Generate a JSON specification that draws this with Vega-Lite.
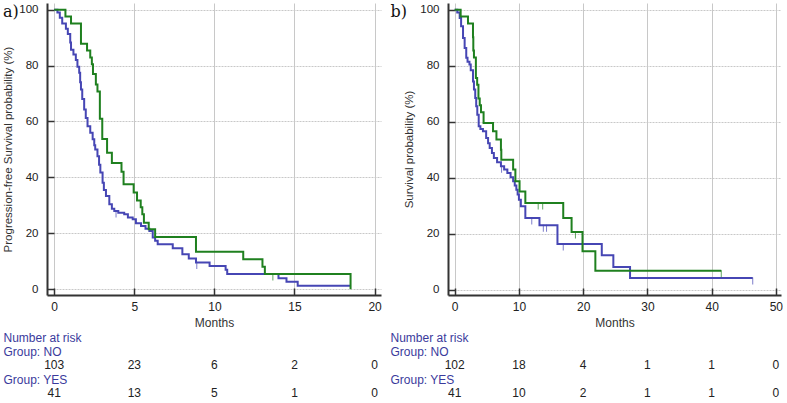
{
  "$schema": "https://vega.github.io/schema/vega-lite/v6.json",
  "padding": {"left": 2, "top": 3, "right": 0, "bottom": 0},
  "background": "white",
  "config": {
    "font": "Liberation Sans",
    "view": {"stroke": null},
    "axis": {"labelFont": "Liberation Sans", "titleFont": "Liberation Sans", "labelColor": "#222", "titleColor": "#333", "titleFontWeight": "normal", "grid": true, "gridOpacity": 1, "gridWidth": 1}
  },
  "datasets": {
    "kmA": [
      {"group": "NO", "t": 0, "s": 100}, {"group": "NO", "t": 0.2, "s": 99.0}, {"group": "NO", "t": 0.35, "s": 97.1}, {"group": "NO", "t": 0.5, "s": 95.1}, {"group": "NO", "t": 0.73, "s": 93.2}, {"group": "NO", "t": 0.85, "s": 91.3}, {"group": "NO", "t": 1.0, "s": 88.3}, {"group": "NO", "t": 1.05, "s": 85.7}, {"group": "NO", "t": 1.2, "s": 84.0}, {"group": "NO", "t": 1.35, "s": 82.0}, {"group": "NO", "t": 1.45, "s": 79.6}, {"group": "NO", "t": 1.56, "s": 77.4}, {"group": "NO", "t": 1.62, "s": 74.0}, {"group": "NO", "t": 1.67, "s": 71.4}, {"group": "NO", "t": 1.75, "s": 68.0}, {"group": "NO", "t": 1.87, "s": 64.3}, {"group": "NO", "t": 1.97, "s": 61.2}, {"group": "NO", "t": 2.08, "s": 58.3}, {"group": "NO", "t": 2.25, "s": 56.0}, {"group": "NO", "t": 2.4, "s": 53.6}, {"group": "NO", "t": 2.5, "s": 51.5}, {"group": "NO", "t": 2.56, "s": 50.0}, {"group": "NO", "t": 2.7, "s": 47.6}, {"group": "NO", "t": 2.8, "s": 44.5}, {"group": "NO", "t": 2.88, "s": 41.7}, {"group": "NO", "t": 3.02, "s": 38.1}, {"group": "NO", "t": 3.1, "s": 35.5}, {"group": "NO", "t": 3.23, "s": 33.3}, {"group": "NO", "t": 3.44, "s": 30.4}, {"group": "NO", "t": 3.6, "s": 28.8}, {"group": "NO", "t": 3.75, "s": 28.0}, {"group": "NO", "t": 4.0, "s": 27.3}, {"group": "NO", "t": 4.37, "s": 26.8}, {"group": "NO", "t": 4.6, "s": 25.6}, {"group": "NO", "t": 4.9, "s": 25.0}, {"group": "NO", "t": 5.1, "s": 23.6}, {"group": "NO", "t": 5.42, "s": 22.6}, {"group": "NO", "t": 5.7, "s": 21.6}, {"group": "NO", "t": 5.94, "s": 20.8}, {"group": "NO", "t": 6.15, "s": 18.5}, {"group": "NO", "t": 6.3, "s": 17.3}, {"group": "NO", "t": 6.46, "s": 16.1}, {"group": "NO", "t": 7.4, "s": 14.6}, {"group": "NO", "t": 8.0, "s": 12.5}, {"group": "NO", "t": 8.4, "s": 11.0}, {"group": "NO", "t": 8.85, "s": 9.5}, {"group": "NO", "t": 9.7, "s": 8.3}, {"group": "NO", "t": 10.7, "s": 6.9}, {"group": "NO", "t": 10.8, "s": 5.4}, {"group": "NO", "t": 14.0, "s": 3.9}, {"group": "NO", "t": 14.5, "s": 2.6}, {"group": "NO", "t": 15.2, "s": 1.2}, {"group": "NO", "t": 18.5, "s": 1.2},
      {"group": "YES", "t": 0, "s": 100}, {"group": "YES", "t": 0.7, "s": 97.6}, {"group": "YES", "t": 1.05, "s": 95.1}, {"group": "YES", "t": 1.67, "s": 87.8}, {"group": "YES", "t": 2.05, "s": 85.4}, {"group": "YES", "t": 2.25, "s": 82.9}, {"group": "YES", "t": 2.35, "s": 80.5}, {"group": "YES", "t": 2.42, "s": 77.0}, {"group": "YES", "t": 2.6, "s": 73.2}, {"group": "YES", "t": 2.7, "s": 70.7}, {"group": "YES", "t": 2.85, "s": 61.0}, {"group": "YES", "t": 3.0, "s": 53.7}, {"group": "YES", "t": 3.3, "s": 48.8}, {"group": "YES", "t": 3.6, "s": 45.1}, {"group": "YES", "t": 4.2, "s": 42.0}, {"group": "YES", "t": 4.33, "s": 37.5}, {"group": "YES", "t": 4.96, "s": 34.6}, {"group": "YES", "t": 5.17, "s": 31.7}, {"group": "YES", "t": 5.4, "s": 29.3}, {"group": "YES", "t": 5.5, "s": 26.8}, {"group": "YES", "t": 5.6, "s": 23.8}, {"group": "YES", "t": 5.9, "s": 21.4}, {"group": "YES", "t": 6.3, "s": 18.7}, {"group": "YES", "t": 8.85, "s": 13.4}, {"group": "YES", "t": 11.8, "s": 10.7}, {"group": "YES", "t": 13.0, "s": 8.0}, {"group": "YES", "t": 13.15, "s": 5.4}, {"group": "YES", "t": 18.5, "s": 0}
    ],
    "censA": [
      {"group": "NO", "t": 3.86, "s": 28.0}, {"group": "NO", "t": 8.9, "s": 9.5}, {"group": "YES", "t": 13.65, "s": 5.4}
    ],
    "kmB": [
      {"group": "NO", "t": 0, "s": 100}, {"group": "NO", "t": 0.4, "s": 99.0}, {"group": "NO", "t": 0.78, "s": 97.0}, {"group": "NO", "t": 1.0, "s": 94.1}, {"group": "NO", "t": 1.3, "s": 89.9}, {"group": "NO", "t": 1.55, "s": 86.3}, {"group": "NO", "t": 1.8, "s": 82.8}, {"group": "NO", "t": 2.0, "s": 81.4}, {"group": "NO", "t": 2.3, "s": 80.4}, {"group": "NO", "t": 2.5, "s": 78.4}, {"group": "NO", "t": 2.85, "s": 74.4}, {"group": "NO", "t": 3.0, "s": 71.5}, {"group": "NO", "t": 3.2, "s": 68.5}, {"group": "NO", "t": 3.35, "s": 65.5}, {"group": "NO", "t": 3.52, "s": 62.5}, {"group": "NO", "t": 3.74, "s": 58.4}, {"group": "NO", "t": 4.0, "s": 57.4}, {"group": "NO", "t": 4.4, "s": 56.6}, {"group": "NO", "t": 4.9, "s": 54.2}, {"group": "NO", "t": 5.2, "s": 52.3}, {"group": "NO", "t": 5.45, "s": 50.6}, {"group": "NO", "t": 5.8, "s": 48.8}, {"group": "NO", "t": 6.1, "s": 47.0}, {"group": "NO", "t": 6.6, "s": 45.5}, {"group": "NO", "t": 7.2, "s": 44.1}, {"group": "NO", "t": 7.7, "s": 42.9}, {"group": "NO", "t": 8.2, "s": 41.7}, {"group": "NO", "t": 8.7, "s": 40.2}, {"group": "NO", "t": 9.1, "s": 38.7}, {"group": "NO", "t": 9.35, "s": 37.2}, {"group": "NO", "t": 9.6, "s": 35.7}, {"group": "NO", "t": 9.8, "s": 34.0}, {"group": "NO", "t": 10.0, "s": 32.1}, {"group": "NO", "t": 10.3, "s": 29.8}, {"group": "NO", "t": 11.0, "s": 25.6}, {"group": "NO", "t": 13.2, "s": 23.0}, {"group": "NO", "t": 16.0, "s": 16.3}, {"group": "NO", "t": 22.9, "s": 12.3}, {"group": "NO", "t": 24.7, "s": 8.1}, {"group": "NO", "t": 27.3, "s": 4.2}, {"group": "NO", "t": 46.4, "s": 4.2},
      {"group": "YES", "t": 0, "s": 100}, {"group": "YES", "t": 0.93, "s": 97.6}, {"group": "YES", "t": 2.07, "s": 95.1}, {"group": "YES", "t": 2.85, "s": 90.2}, {"group": "YES", "t": 2.9, "s": 85.4}, {"group": "YES", "t": 3.0, "s": 82.9}, {"group": "YES", "t": 3.3, "s": 75.6}, {"group": "YES", "t": 3.5, "s": 73.2}, {"group": "YES", "t": 3.7, "s": 68.3}, {"group": "YES", "t": 3.9, "s": 65.9}, {"group": "YES", "t": 4.1, "s": 63.4}, {"group": "YES", "t": 4.5, "s": 59.5}, {"group": "YES", "t": 5.97, "s": 56.6}, {"group": "YES", "t": 6.5, "s": 53.6}, {"group": "YES", "t": 7.2, "s": 50.0}, {"group": "YES", "t": 7.26, "s": 46.4}, {"group": "YES", "t": 9.1, "s": 42.9}, {"group": "YES", "t": 9.45, "s": 38.7}, {"group": "YES", "t": 10.1, "s": 35.1}, {"group": "YES", "t": 11.0, "s": 31.0}, {"group": "YES", "t": 16.9, "s": 25.6}, {"group": "YES", "t": 18.2, "s": 20.6}, {"group": "YES", "t": 19.9, "s": 13.7}, {"group": "YES", "t": 21.9, "s": 6.8}, {"group": "YES", "t": 41.5, "s": 6.8}
    ],
    "censB": [
      {"group": "NO", "t": 7.3, "s": 44.1}, {"group": "NO", "t": 12.0, "s": 25.6}, {"group": "NO", "t": 13.8, "s": 23.0}, {"group": "NO", "t": 14.3, "s": 23.0}, {"group": "NO", "t": 16.9, "s": 16.3}, {"group": "NO", "t": 46.4, "s": 4.2},
      {"group": "YES", "t": 13.0, "s": 31.0}, {"group": "YES", "t": 13.7, "s": 31.0}, {"group": "YES", "t": 18.8, "s": 20.6}, {"group": "YES", "t": 41.5, "s": 6.8}
    ],
    "riskA": [
      {"group": "NO", "t": 0, "n": 103}, {"group": "NO", "t": 5, "n": 23}, {"group": "NO", "t": 10, "n": 6}, {"group": "NO", "t": 15, "n": 2}, {"group": "NO", "t": 20, "n": 0},
      {"group": "YES", "t": 0, "n": 41}, {"group": "YES", "t": 5, "n": 13}, {"group": "YES", "t": 10, "n": 5}, {"group": "YES", "t": 15, "n": 1}, {"group": "YES", "t": 20, "n": 0}
    ],
    "riskB": [
      {"group": "NO", "t": 0, "n": 102}, {"group": "NO", "t": 10, "n": 18}, {"group": "NO", "t": 20, "n": 4}, {"group": "NO", "t": 30, "n": 1}, {"group": "NO", "t": 40, "n": 1}, {"group": "NO", "t": 50, "n": 0},
      {"group": "YES", "t": 0, "n": 41}, {"group": "YES", "t": 10, "n": 10}, {"group": "YES", "t": 20, "n": 2}, {"group": "YES", "t": 30, "n": 1}, {"group": "YES", "t": 40, "n": 1}, {"group": "YES", "t": 50, "n": 0}
    ]
  },
  "resolve": {"scale": {"x": "independent", "y": "independent", "color": "independent"}},
  "spacing": 8,
  "hconcat": [
    {
      "spacing": 2,
      "resolve": {"scale": {"x": "independent", "y": "independent", "color": "independent"}},
      "vconcat": [
        {
          "width": 334, "height": 292,
          "layer": [
            {
              "data": {"name": "kmA"},
              "mark": {"type": "line", "interpolate": "step-after", "strokeWidth": 2},
              "encoding": {
                "x": {"field": "t", "type": "quantitative", "scale": {"domain": [-0.45, 20.4], "nice": false, "zero": false},
                  "axis": {"values": [0, 5, 10, 15, 20], "title": "Months", "grid": true, "tickSize": -7, "tickWidth": 1.5, "tickColor": "#333", "domainColor": "#333", "domainWidth": 2, "gridColor": "#c8c8c8", "labelFontSize": 12, "labelPadding": 13, "titleFontSize": 12, "titlePadding": 5}},
                "y": {"field": "s", "type": "quantitative", "scale": {"domain": [-2.1, 102.4], "nice": false, "zero": false},
                  "axis": {"values": [0, 20, 40, 60, 80, 100], "title": "Progression-free Survival probability (%)", "grid": true, "tickSize": -7, "tickWidth": 1.5, "tickColor": "#333", "domainColor": "#333", "domainWidth": 2, "gridColor": "#c8c8c8", "gridDash": [2, 1], "labelFontSize": 11.5, "labelPadding": 16, "titleFontSize": 11.5, "titlePadding": 5}},
                "color": {"field": "group", "type": "nominal", "scale": {"domain": ["NO", "YES"], "range": ["#4646b4", "#1f801f"]}, "legend": null}
              }
            },
            {
              "data": {"name": "censA"},
              "mark": {"type": "tick", "orient": "vertical", "size": 7, "thickness": 1, "yOffset": 3},
              "encoding": {
                "x": {"field": "t", "type": "quantitative"},
                "y": {"field": "s", "type": "quantitative"},
                "color": {"field": "group", "type": "nominal", "legend": null}
              }
            },
            {
              "data": {"values": [{"panel": "a)"}]},
              "mark": {"type": "text", "font": "DejaVu Serif", "fontSize": 16, "align": "left", "baseline": "middle", "color": "#111"},
              "encoding": {"x": {"datum": -3.2}, "y": {"datum": 99.3}, "text": {"field": "panel"}}
            }
          ]
        },
        {
          "width": 334, "height": 70,
          "data": {"name": "riskA"},
          "mark": {"type": "text", "fontSize": 12, "color": "#222"},
          "encoding": {
            "x": {"field": "t", "type": "quantitative", "scale": {"domain": [-0.45, 20.4], "nice": false, "zero": false}, "axis": null},
            "y": {"field": "group", "type": "ordinal", "scale": {"domain": ["Number at risk", "Group: NO", "NO", "Group: YES", "YES"], "paddingInner": 0, "paddingOuter": 0},
              "axis": {"title": null, "domain": false, "ticks": false, "tickSize": 0, "grid": false, "labelAlign": "left", "labelPadding": 44, "labelFontSize": 12, "labelColor": "#3a3a9c", "labelExpr": "datum.value == 'NO' || datum.value == 'YES' ? '' : datum.value"}},
            "text": {"field": "n", "type": "quantitative"}
          }
        }
      ]
    },
    {
      "spacing": 2,
      "resolve": {"scale": {"x": "independent", "y": "independent", "color": "independent"}},
      "vconcat": [
        {
          "width": 333, "height": 292,
          "layer": [
            {
              "data": {"name": "kmB"},
              "mark": {"type": "line", "interpolate": "step-after", "strokeWidth": 2},
              "encoding": {
                "x": {"field": "t", "type": "quantitative", "scale": {"domain": [-1.04, 50.8], "nice": false, "zero": false},
                  "axis": {"values": [0, 10, 20, 30, 40, 50], "title": "Months", "grid": true, "tickSize": -7, "tickWidth": 1.5, "tickColor": "#333", "domainColor": "#333", "domainWidth": 2, "gridColor": "#c8c8c8", "labelFontSize": 12, "labelPadding": 13, "titleFontSize": 12, "titlePadding": 5}},
                "y": {"field": "s", "type": "quantitative", "scale": {"domain": [-1.9, 102.4], "nice": false, "zero": false},
                  "axis": {"values": [0, 20, 40, 60, 80, 100], "title": "Survival probability (%)", "grid": true, "tickSize": -7, "tickWidth": 1.5, "tickColor": "#333", "domainColor": "#333", "domainWidth": 2, "gridColor": "#c8c8c8", "gridDash": [2, 1], "labelFontSize": 11.5, "labelPadding": 16, "titleFontSize": 11.5, "titlePadding": 5}},
                "color": {"field": "group", "type": "nominal", "scale": {"domain": ["NO", "YES"], "range": ["#4646b4", "#1f801f"]}, "legend": null}
              }
            },
            {
              "data": {"name": "censB"},
              "mark": {"type": "tick", "orient": "vertical", "size": 7, "thickness": 1, "yOffset": 3},
              "encoding": {
                "x": {"field": "t", "type": "quantitative"},
                "y": {"field": "s", "type": "quantitative"},
                "color": {"field": "group", "type": "nominal", "legend": null}
              }
            },
            {
              "data": {"values": [{"panel": "b)"}]},
              "mark": {"type": "text", "font": "DejaVu Serif", "fontSize": 16, "align": "left", "baseline": "middle", "color": "#111"},
              "encoding": {"x": {"datum": -10.0}, "y": {"datum": 99.3}, "text": {"field": "panel"}}
            }
          ]
        },
        {
          "width": 333, "height": 70,
          "data": {"name": "riskB"},
          "mark": {"type": "text", "fontSize": 12, "color": "#222"},
          "encoding": {
            "x": {"field": "t", "type": "quantitative", "scale": {"domain": [-1.04, 50.8], "nice": false, "zero": false}, "axis": null},
            "y": {"field": "group", "type": "ordinal", "scale": {"domain": ["Number at risk", "Group: NO", "NO", "Group: YES", "YES"], "paddingInner": 0, "paddingOuter": 0},
              "axis": {"title": null, "domain": false, "ticks": false, "tickSize": 0, "grid": false, "labelAlign": "left", "labelPadding": 58, "labelFontSize": 12, "labelColor": "#3a3a9c", "labelExpr": "datum.value == 'NO' || datum.value == 'YES' ? '' : datum.value"}},
            "text": {"field": "n", "type": "quantitative"}
          }
        }
      ]
    }
  ]
}
